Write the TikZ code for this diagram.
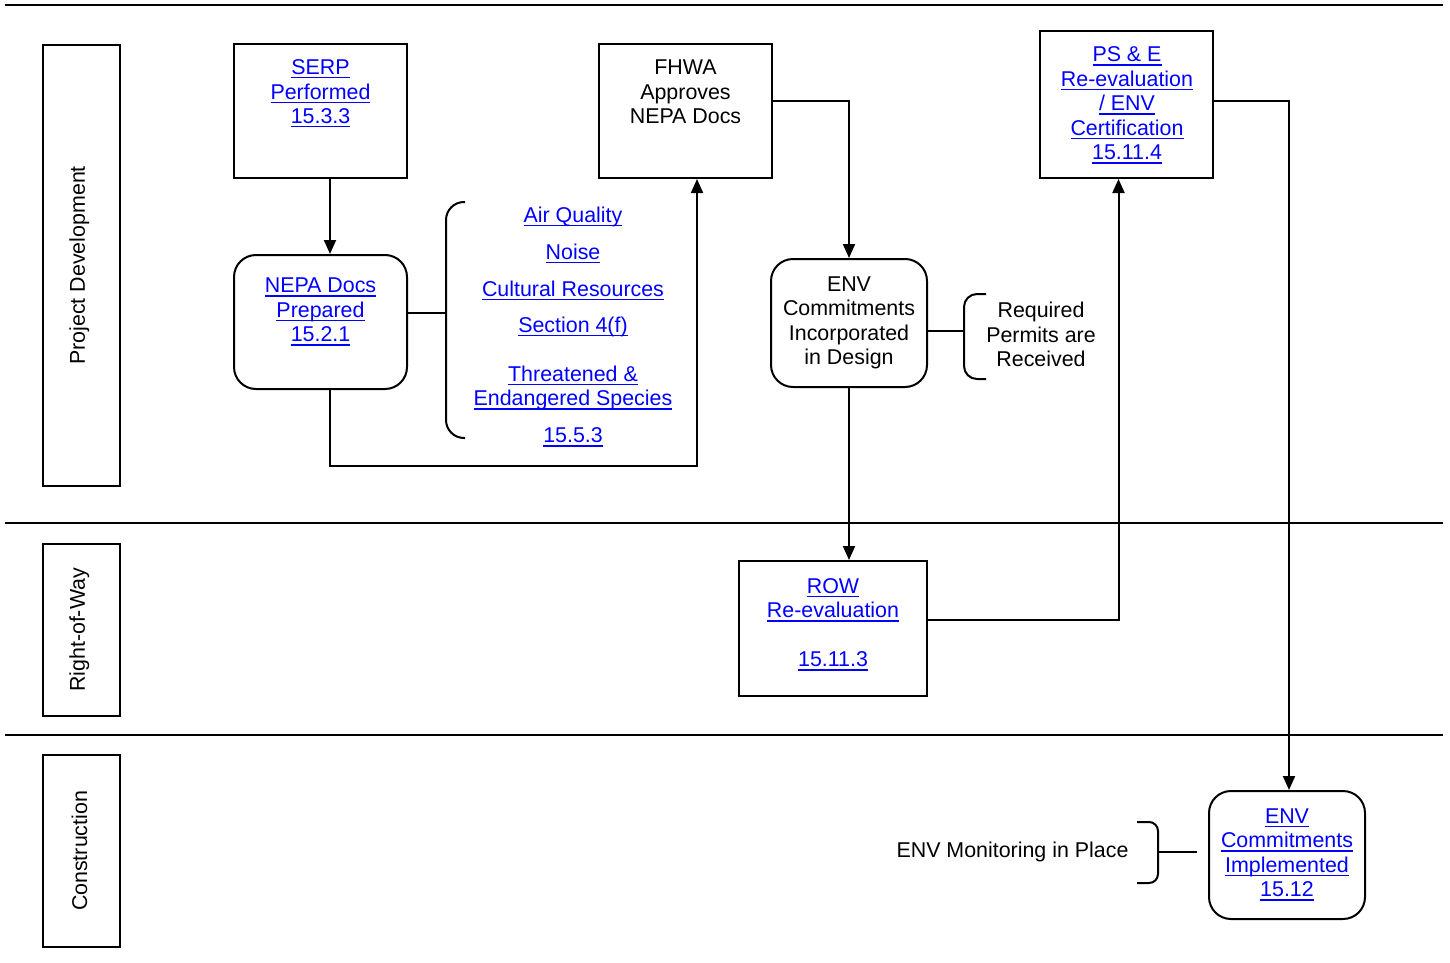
\documentclass[tikz,border=0pt]{standalone}
\usepackage{fontspec}
\setmainfont{Liberation Sans}
\usetikzlibrary{arrows.meta,calc}
\definecolor{linkblue}{RGB}{0,0,255}
\newcommand{\lk}[1]{\leavevmode\setbox0\hbox{#1}\rlap{\vrule width\wd0 height -2.6pt depth 4pt}\box0}
\begin{document}
\begin{tikzpicture}[x=1pt,y=-1pt,
  every node/.style={font=\fontsize{21.4}{24.5}\selectfont},
  sqbox/.style={draw,line width=2pt,rectangle,inner sep=0pt},
  rdbox/.style={draw,line width=2pt,rectangle,rounded corners=22pt,inner sep=0pt},
  lane/.style={draw,line width=1.8pt,rectangle,inner sep=0pt,minimum width=77,anchor=north west},
  txt/.style={align=center,inner sep=0pt,anchor=base},
  link/.style={txt,text=linkblue},
  conn/.style={line width=2pt},
  arr/.style={conn,-{Triangle[width=12pt,length=14pt]}},
  brace/.style={line width=2pt}
]
\useasboundingbox (0,0) rectangle (1450,963);
% lane separators
\draw[line width=1.5pt] (5,5) -- (1443,5);
\draw[line width=1.5pt] (5,523) -- (1443,523);
\draw[line width=1.5pt] (5,735) -- (1443,735);
% lane labels
\node[lane,minimum height=441] (lpd) at (42,44) {};
\node[lane,minimum height=172] (lrow) at (42,543) {};
\node[lane,minimum height=192] (lcon) at (42,754) {};
\node[rotate=90,inner sep=0pt] (tpd) at ([xshift=-2pt]lpd.center) {Project Development};
\node[rotate=90,inner sep=0pt] (trow) at ([xshift=-2pt]lrow.center) {Right-of-Way};
\node[rotate=90,inner sep=0pt] (tcon) at ([xshift=-2pt]lcon.center) {Construction};
% boxes
\node[sqbox,minimum width=173,minimum height=134] (serp) at (320.5,111) {};
\node[rdbox,minimum width=173,minimum height=134] (nepa) at (320.5,322) {};
\node[sqbox,minimum width=173,minimum height=134] (fhwa) at (685.5,111) {};
\node[rdbox,minimum width=156,minimum height=128] (envd) at (849,323) {};
\node[sqbox,minimum width=188,minimum height=135] (row) at (833,628.5) {};
\node[sqbox,minimum width=173,minimum height=147] (pse) at (1126.5,104.5) {};
\node[rdbox,minimum width=156,minimum height=128] (impl) at (1287,855) {};
% texts (base anchor = baseline of last line)
\node[link] (serpT) at (320.5,123.5) {\lk{SERP}\\\lk{Performed}\\\lk{15.3.3}};
\node[link] (nepaT) at (320.5,341.5) {\lk{NEPA Docs}\\\lk{Prepared}\\\lk{15.2.1}};
\node[txt] (fhwaT) at (685.5,123.5) {FHWA\\Approves\\NEPA Docs};
\node[link] (listT) at (573,442.5) {\lk{Air Quality}\\[12.5pt]\lk{Noise}\\[12.5pt]\lk{Cultural Resources}\\[11.5pt]\lk{Section 4(f)}\\[24.5pt]\lk{Threatened \&}\\\lk{Endangered Species}\\[12.5pt]\lk{15.5.3}};
\node[txt] (envdT) at (849,364.5) {ENV\\Commitments\\Incorporated\\in Design};
\node[txt] (reqT) at (1041,366.5) {Required\\Permits are\\Received};
\node[link] (rowT) at (833,666.5) {\lk{ROW}\\\lk{Re-evaluation}\\[24.5pt]\lk{15.11.3}};
\node[link] (pseT) at (1127,159.5) {\lk{PS \& E}\\\lk{Re-evaluation}\\\lk{/ ENV}\\\lk{Certification}\\\lk{15.11.4}};
\node[link] (implT) at (1287,896.5) {\lk{ENV}\\\lk{Commitments}\\\lk{Implemented}\\\lk{15.12}};
\node[txt] (monT) at (1012.5,857.5) {ENV Monitoring in Place};
% braces
\draw[brace,rounded corners=18pt] (465,202) -- (446,202) -- (446,438) -- (465,438);
\draw[brace,rounded corners=13pt] (986,294) -- (964,294) -- (964,379) -- (986,379);
\draw[brace,rounded corners=9pt] (1137,822) -- (1158,822) -- (1158,883) -- (1137,883);
\coordinate (br1) at (446,313);
\coordinate (br2) at (964,331);
\coordinate (br3) at (1158,852);
\coordinate (br3e) at (1197,852);
% connectors
\draw[arr] ([xshift=9.5pt]serp.south) -- ([xshift=9.5pt]nepa.north);
\draw[conn] ([yshift=9pt]nepa.east) -- (br1);
\draw[arr] ([xshift=9.5pt]nepa.south) -- ++(0,76) -| ([xshift=11.5pt]fhwa.south);
\draw[arr] ([yshift=10pt]fhwa.east) -| (envd.north);
\draw[conn] ([yshift=-8pt]envd.east) -- (br2);
\draw[arr] (envd.south) -- (envd.south |- row.north);
\draw[arr] ([yshift=8.5pt]row.east) -| ([xshift=-8pt]pse.south);
\draw[arr] ([yshift=3.5pt]pse.east) -| ([xshift=2pt]impl.north);
\draw[conn] (br3) -- (br3e);
\end{tikzpicture}
\end{document}
